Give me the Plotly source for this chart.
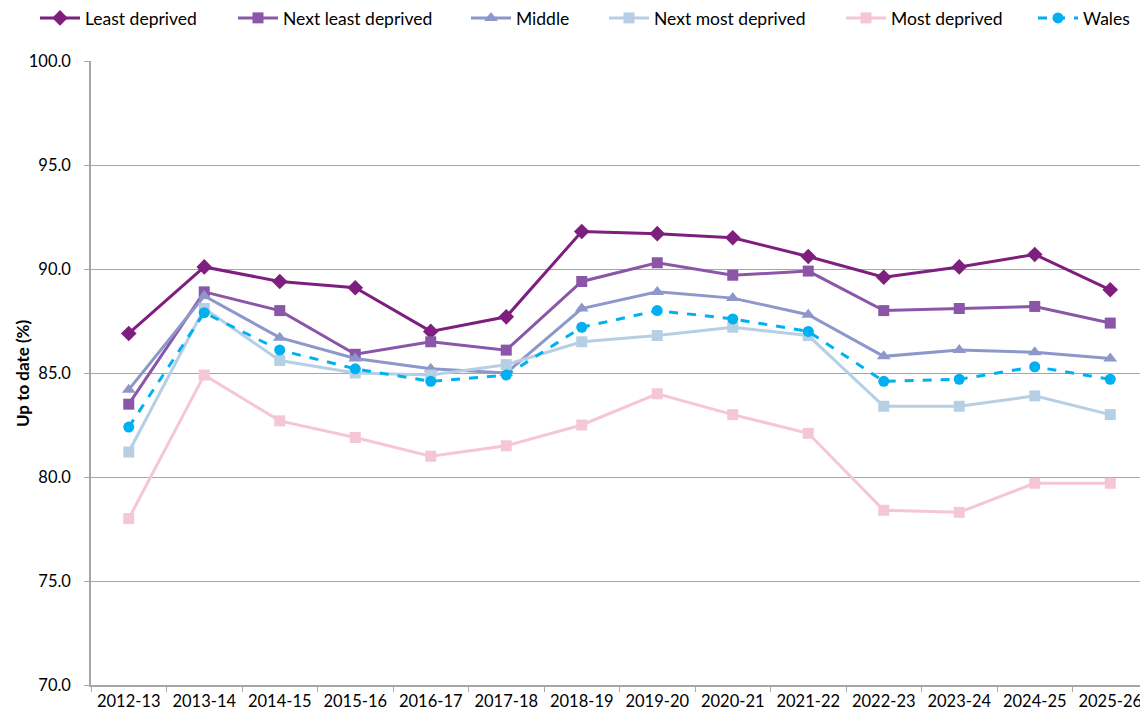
import plotly.graph_objects as go

years = ["2012-13", "2013-14", "2014-15", "2015-16", "2016-17", "2017-18", "2018-19",
         "2019-20", "2020-21", "2021-22", "2022-23", "2023-24", "2024-25", "2025-26"]

least_deprived = [86.9, 90.1, 89.4, 89.1, 87.0, 87.7, 91.8, 91.7, 91.5, 90.6, 89.6, 90.1, 90.7, 89.0]
next_least_deprived = [83.5, 88.9, 88.0, 85.9, 86.5, 86.1, 89.4, 90.3, 89.7, 89.9, 88.0, 88.1, 88.2, 87.4]
middle = [84.2, 88.7, 86.7, 85.7, 85.2, 85.0, 88.1, 88.9, 88.6, 87.8, 85.8, 86.1, 86.0, 85.7]
next_most_deprived = [81.2, 88.1, 85.6, 85.0, 84.9, 85.4, 86.5, 86.8, 87.2, 86.8, 83.4, 83.4, 83.9, 83.0]
most_deprived = [78.0, 84.9, 82.7, 81.9, 81.0, 81.5, 82.5, 84.0, 83.0, 82.1, 78.4, 78.3, 79.7, 79.7]
wales = [82.4, 87.9, 86.1, 85.2, 84.6, 84.9, 87.2, 88.0, 87.6, 87.0, 84.6, 84.7, 85.3, 84.7]

y_ticks = [70, 75, 80, 85, 90, 95, 100]
y_title = "Up to date (%)"

series = [
    ("Least deprived", least_deprived, "#7E1E7E", "diamond", 12, "solid"),
    ("Next least deprived", next_least_deprived, "#8B56A8", "square", 11, "solid"),
    ("Middle", middle, "#8D97CA", "triangle-up", 12, "solid"),
    ("Next most deprived", next_most_deprived, "#B7CFE5", "square", 11, "solid"),
    ("Most deprived", most_deprived, "#F5C6D7", "square", 11, "solid"),
    ("Wales", wales, "#00B0F0", "circle", 11, "dash"),
]

# the page adds an 8px body margin; figure is sized to fill the window exactly
W, H = 1140, 712
legend_left_px = [27, 225, 458, 596, 833, 1025]
legend_ids = ["legend", "legend2", "legend3", "legend4", "legend5", "legend6"]

fig = go.Figure()
for (name, vals, color, sym, size, dash), lid in zip(series, legend_ids):
    fig.add_trace(go.Scatter(
        x=years, y=vals, name=name, mode="lines+markers",
        line=dict(color=color, width=3, dash=dash),
        marker=dict(symbol=sym, size=size, color=color),
        legend=lid,
    ))

font = "Lato, 'DejaVu Sans', sans-serif"
top, bottom, left = 53, 35, 83
plot_h = H - top - bottom
legend_y = 1 + (top - 10) / plot_h

layout = dict(
    width=W, height=H,
    margin=dict(l=left, r=0, t=top, b=bottom, autoexpand=False),
    paper_bgcolor="white", plot_bgcolor="white",
    font=dict(family=font, size=16.5, color="#000000"),
    showlegend=True,
    xaxis=dict(
        type="category", range=[-0.5, 13.5],
        showline=True, linecolor="#A6A6A6", linewidth=1.5,
        ticks="outside", ticklen=5, tickcolor="#A6A6A6",
        showgrid=False, tickson="boundaries",
        tickfont=dict(size=16.5, family=font),
    ),
    yaxis=dict(
        range=[70, 100], tickvals=y_ticks,
        tickformat=".1f",
        showline=True, linecolor="#A6A6A6", linewidth=1.5,
        ticks="outside", ticklen=5, tickcolor="#A6A6A6",
        ticklabelstandoff=10,
        showgrid=True, gridcolor="#A6A6A6", gridwidth=1.2,
        zeroline=False,
        tickfont=dict(size=16.5, family=font),
    ),
    annotations=[dict(
        text="<b>" + y_title + "</b>", textangle=-90,
        xref="paper", yref="paper", x=0, y=0.5,
        xanchor="center", yanchor="middle", xshift=-69,
        showarrow=False, font=dict(size=17, family=font, color="#000000"),
    )],
)
for lid, lx in zip(legend_ids, legend_left_px):
    layout[lid] = dict(
        orientation="h", x=lx / W, xanchor="left", xref="container",
        y=legend_y, yanchor="middle", yref="paper",
        font=dict(size=17.5, family=font), itemwidth=40,
        bgcolor="rgba(0,0,0,0)",
    )
fig.update_layout(**layout)

fig.write_html("out.html")
